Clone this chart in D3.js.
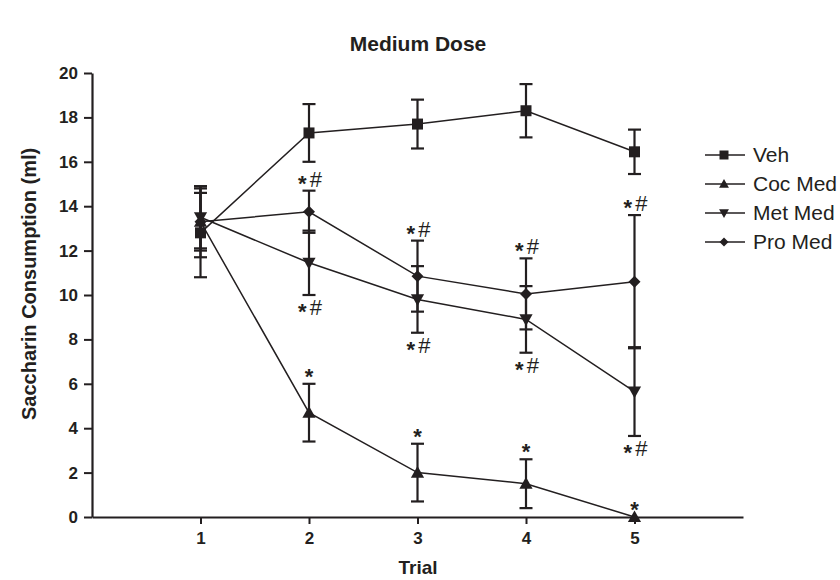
<!DOCTYPE html>
<html>
<head>
<meta charset="utf-8">
<script src="https://cdn.jsdelivr.net/npm/d3@7"></script>
<style>
  body { margin: 0; background: #fff; }
  svg { display: block; }
  text { font-family: "Liberation Sans", Arial, Helvetica, sans-serif; fill: #231f20; }
</style>
</head>
<body>
<svg id="chart" width="840" height="580"></svg>
<script>
// ---- data ----
const trials = [1, 2, 3, 4, 5];
const seriesNames = ["Veh", "Coc Med", "Met Med", "Pro Med"];
const vehMean = [12.8, 17.3, 17.7, 18.3, 16.45];
const vehErr  = [2.0, 1.3, 1.1, 1.2, 1.0];
const cocMean = [13.3, 4.7, 2.0, 1.5, 0.0];
const cocErr  = [1.3, 1.3, 1.3, 1.1, 0.0];
const metMean = [13.5, 11.45, 9.8, 8.9, 5.65];
const metErr  = [1.4, 1.45, 1.5, 1.5, 2.0];
const proMean = [13.3, 13.75, 10.85, 10.05, 10.6];
const proErr  = [1.6, 0.95, 1.6, 1.6, 3.0];
const yTicks = [0, 2, 4, 6, 8, 10, 12, 14, 16, 18, 20];
// significance marks: series index, trial, text, side
const marks = [
  {s: 1, t: 2, txt: "*", side: "above"},
  {s: 1, t: 3, txt: "*", side: "above"},
  {s: 1, t: 4, txt: "*", side: "above"},
  {s: 1, t: 5, txt: "*", side: "above"},
  {s: 3, t: 2, txt: "*#", side: "above"},
  {s: 3, t: 3, txt: "*#", side: "above"},
  {s: 3, t: 4, txt: "*#", side: "above"},
  {s: 3, t: 5, txt: "*#", side: "above"},
  {s: 2, t: 2, txt: "*#", side: "below"},
  {s: 2, t: 3, txt: "*#", side: "below"},
  {s: 2, t: 4, txt: "*#", side: "below"},
  {s: 2, t: 5, txt: "*#", side: "below"}
];

const means = [vehMean, cocMean, metMean, proMean];
const errs = [vehErr, cocErr, metErr, proErr];
const shapes = ["square", "up", "down", "diamond"];
const ink = "#231f20";

const svg = d3.select("#chart");
const x = d3.scaleLinear().domain([0, 6]).range([92, 743]);
const y = d3.scaleLinear().domain([0, 20]).range([517, 73]);

// title
svg.append("text").attr("x", 418).attr("y", 51).attr("text-anchor", "middle")
  .attr("font-size", 21).attr("font-weight", "bold").text("Medium Dose");

// axes
const yAxis = d3.axisLeft(y).tickValues(yTicks).tickSize(8).tickSizeOuter(0).tickPadding(6);
const gy = svg.append("g").attr("transform", `translate(${x(0)},0)`).call(yAxis);
const xAxis = d3.axisBottom(x).tickValues(trials).tickFormat(d3.format("d"))
  .tickSize(7).tickSizeOuter(0).tickPadding(8);
const gx = svg.append("g").attr("transform", `translate(0,${y(0)})`).call(xAxis);
[gy, gx].forEach(g => {
  g.selectAll("path.domain").attr("stroke", ink).attr("stroke-width", 2.2);
  g.selectAll(".tick line").attr("stroke", ink).attr("stroke-width", 2);
  g.selectAll(".tick text").attr("font-size", 17).attr("font-weight", "bold")
    .attr("font-family", "Liberation Sans, Arial, sans-serif").attr("fill", ink);
});

svg.append("text").attr("x", 418).attr("y", 574).attr("text-anchor", "middle")
  .attr("font-size", 19).attr("font-weight", "bold").text("Trial");
svg.append("text").attr("transform", `translate(36,${y(10.5)}) rotate(-90)`)
  .attr("text-anchor", "middle").attr("font-size", 20).attr("font-weight", "bold")
  .text("Saccharin Consumption (ml)");

function shapePath(shape, size) {
  const h = size / 2;
  if (shape === "square") return `M${-h},${-h}H${h}V${h}H${-h}Z`;
  if (shape === "up") return `M0,${-h * 1.1}L${h * 1.1},${h * 0.85}L${-h * 1.1},${h * 0.85}Z`;
  if (shape === "down") return `M0,${h * 1.1}L${h * 1.1},${-h * 0.85}L${-h * 1.1},${-h * 0.85}Z`;
  return `M0,${-h}L${h},0L0,${h}L${-h},0Z`;
}

const plot = svg.append("g");
const capW = 6.5;
// error bars
means.forEach((m, si) => {
  const e = errs[si];
  trials.forEach((t, i) => {
    if (e[i] <= 0) return;
    const g = plot.append("g").attr("stroke", ink).attr("stroke-width", 2.2);
    const hi = m[i] + e[i], lo = m[i] - e[i];
    g.append("line").attr("x1", x(t)).attr("x2", x(t)).attr("y1", y(hi)).attr("y2", y(lo));
    g.append("line").attr("x1", x(t) - capW).attr("x2", x(t) + capW).attr("y1", y(hi)).attr("y2", y(hi));
    g.append("line").attr("x1", x(t) - capW).attr("x2", x(t) + capW).attr("y1", y(lo)).attr("y2", y(lo));
  });
});
// lines
const line = d3.line().x((d, i) => x(trials[i])).y(d => y(d));
means.forEach(m => {
  plot.append("path").datum(m).attr("d", line).attr("fill", "none")
    .attr("stroke", ink).attr("stroke-width", 1.5);
});
// markers
means.forEach((m, si) => {
  plot.selectAll(null).data(m).join("path")
    .attr("transform", (d, i) => `translate(${x(trials[i])},${y(d)})`)
    .attr("d", shapePath(shapes[si], si === 0 ? 11 : (si === 3 ? 12 : 12)))
    .attr("fill", ink);
});

// significance marks
marks.forEach(mk => {
  const i = trials.indexOf(mk.t);
  const m = means[mk.s][i], e = errs[mk.s][i];
  let yy;
  if (mk.side === "above") yy = y(m + e) - 4;
  else yy = y(m - e) + 20;
  const tx = svg.append("text").attr("x", x(mk.t) + (mk.txt.length > 1 ? 1 : 0)).attr("y", yy)
    .attr("text-anchor", "middle").attr("font-size", 22);
  tx.append("tspan").attr("font-weight", "bold").attr("dy", 4).text("*");
  if (mk.txt.length > 1) tx.append("tspan").attr("dx", 3).attr("dy", -4).text("#");
});

// legend
const legend = svg.append("g").attr("transform", "translate(705,155)");
seriesNames.forEach((name, si) => {
  const g = legend.append("g").attr("transform", `translate(0,${si * 29})`);
  g.append("line").attr("x1", 0).attr("x2", 40).attr("stroke", ink).attr("stroke-width", 1.5);
  g.append("path").attr("transform", "translate(19,0)")
    .attr("d", shapePath(shapes[si], 9)).attr("fill", ink);
  g.append("text").attr("x", 48).attr("y", 7).attr("font-size", 21).text(name);
});
</script>
</body>
</html>
